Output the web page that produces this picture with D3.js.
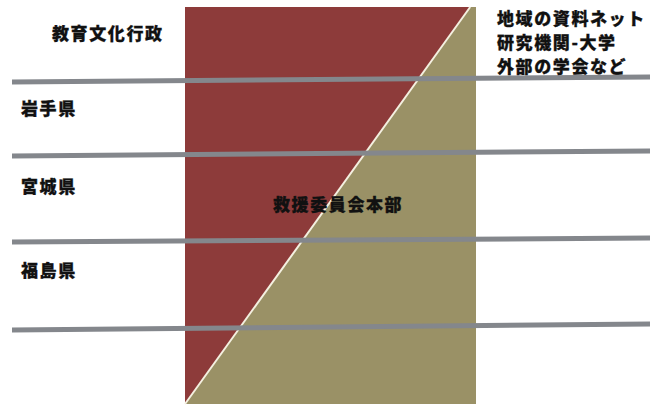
<!DOCTYPE html>
<html>
<head>
<meta charset="utf-8">
<script src="https://cdn.jsdelivr.net/npm/d3@7"></script>
<style>
  body { margin: 0; background: #fff; }
  text { font-family: "Noto Sans CJK JP", "Noto Sans", sans-serif; font-weight: 900; fill: #111; stroke: #111; stroke-width: 0.3px; }
</style>
</head>
<body>
<script>
var width = 650;
var height = 406;

// データ
var headLeft = "教育文化行政";
var headRight = ["地域の資料ネット", "研究機関-大学", "外部の学会など"];
var prefectures = ["岩手県", "宮城県", "福島県"];
var centerLabel = "救援委員会本部";
// 区切り線（左端と右端の高さ）
var dividerLeft = [82, 156, 242, 330];
var dividerRight = [77, 151, 238, 324];
// 行政側の割合（上端・下端）
var shareTop = 0.98;
var shareBottom = 0.0;

var svg = d3.select("body")
  .append("svg")
  .attr("width", width)
  .attr("height", height);

// スケール
var x = d3.scaleLinear().domain([0, 650]).range([0, width]);
var y = d3.scaleLinear().domain([0, 406]).range([0, height]);
var boxX = d3.scaleLinear().domain([0, 1]).range([x(185), x(476)]);
var boxY = d3.scaleLinear().domain([0, 1]).range([y(7), y(404)]);

// 背景の四角（オリーブ）
svg.append("rect")
  .attr("x", boxX(0))
  .attr("y", boxY(0))
  .attr("width", boxX(1) - boxX(0))
  .attr("height", boxY(1) - boxY(0))
  .attr("fill", "#9a9166");

// 赤い三角
var tri = [[0, 0], [shareTop, 0], [shareBottom, 1]];
svg.append("path")
  .attr("d", d3.line().x(function(d){ return boxX(d[0]); }).y(function(d){ return boxY(d[1]); })(tri) + "Z")
  .attr("fill", "#8d3b3a");

// 斜めの白い線
svg.append("line")
  .attr("x1", boxX(shareTop)).attr("y1", boxY(0))
  .attr("x2", boxX(shareBottom)).attr("y2", boxY(1))
  .attr("stroke", "#f4f0e0")
  .attr("stroke-width", 2);

// 区切り線
svg.selectAll("line.div")
  .data(dividerLeft)
  .enter()
  .append("line")
  .attr("class", "div")
  .attr("x1", x(12))
  .attr("x2", x(650))
  .attr("y1", function(d){ return y(d); })
  .attr("y2", function(d, i){ return y(dividerRight[i]); })
  .attr("stroke", "#84878c")
  .attr("stroke-width", 5);

// 文字
var fs = 17;
var ls = 1.6;
svg.append("text")
  .attr("x", x(52)).attr("y", y(32))
  .attr("dominant-baseline", "central")
  .style("font-size", fs + "px").style("letter-spacing", ls + "px")
  .text(headLeft);

svg.selectAll("text.rt")
  .data(headRight)
  .enter()
  .append("text")
  .attr("class", "rt")
  .attr("x", x(497))
  .attr("y", function(d, i){ return y(17 + i * 24); })
  .attr("dominant-baseline", "central")
  .style("font-size", fs + "px").style("letter-spacing", ls + "px")
  .text(function(d){ return d; });

var prefY = [107, 185, 269];
svg.selectAll("text.pref")
  .data(prefectures)
  .enter()
  .append("text")
  .attr("class", "pref")
  .attr("x", x(21))
  .attr("y", function(d, i){ return y(prefY[i]); })
  .attr("dominant-baseline", "central")
  .style("font-size", fs + "px").style("letter-spacing", ls + "px")
  .text(function(d){ return d; });

svg.append("text")
  .attr("x", x(273)).attr("y", y(203))
  .attr("dominant-baseline", "central")
  .style("font-size", fs + "px").style("letter-spacing", ls + "px")
  .text(centerLabel);
</script>
</body>
</html>
